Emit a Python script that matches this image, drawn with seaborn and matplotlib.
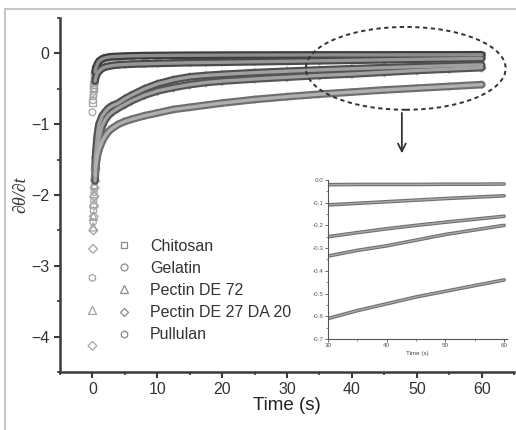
import numpy as np
import pandas as pd
import seaborn as sns
import matplotlib
matplotlib.use("Agg")
import matplotlib.pyplot as plt
from matplotlib.patches import Ellipse, Rectangle
from matplotlib.lines import Line2D
from matplotlib.ticker import MultipleLocator

# Sampling times (s)
time_s = [0, 0.1, 0.15, 0.2, 0.25, 0.3, 0.35, 0.4, 0.5, 0.75, 1, 1.5, 2, 2.5, 3, 4,
          5, 6, 8, 10, 12.5, 15, 17.5, 20, 25, 30, 35, 40, 45, 50, 55, 60]

# Rate of change of the contact angle for each film
chitosan = [-0.69, -0.57, -0.50, -0.44, -0.38, -0.33, -0.29, -0.26, -0.21, -0.15,
            -0.11, -0.075, -0.06, -0.05, -0.045, -0.04, -0.036, -0.033, -0.03,
            -0.028, -0.026, -0.025, -0.024, -0.023, -0.022, -0.021, -0.02, -0.02,
            -0.02, -0.019, -0.019, -0.018]
gelatin = [-0.83, -0.66, -0.60, -0.54, -0.49, -0.45, -0.42, -0.39, -0.34, -0.28,
           -0.25, -0.21, -0.19, -0.18, -0.17, -0.16, -0.155, -0.15, -0.145, -0.14,
           -0.135, -0.13, -0.127, -0.124, -0.117, -0.11, -0.103, -0.096, -0.089,
           -0.082, -0.076, -0.07]
pectin_de72 = [-3.63, -2.45, -2.30, -2.12, -1.98, -1.85, -1.72, -1.60, -1.42, -1.15,
               -1.00, -0.88, -0.82, -0.77, -0.74, -0.70, -0.64, -0.59, -0.50, -0.43,
               -0.37, -0.33, -0.31, -0.295, -0.27, -0.25, -0.232, -0.215, -0.20,
               -0.186, -0.173, -0.16]
pectin_de27 = [-4.13, -2.76, -2.50, -2.30, -2.15, -2.02, -1.90, -1.80, -1.62, -1.36,
               -1.20, -1.02, -0.93, -0.87, -0.83, -0.77, -0.72, -0.67, -0.59, -0.53,
               -0.48, -0.44, -0.41, -0.39, -0.36, -0.335, -0.31, -0.29, -0.265,
               -0.24, -0.22, -0.20]
pullulan = [-3.17, -2.38, -2.22, -2.08, -1.96, -1.87, -1.79, -1.72, -1.60, -1.45,
            -1.36, -1.24, -1.16, -1.10, -1.06, -1.00, -0.96, -0.93, -0.88, -0.84,
            -0.79, -0.76, -0.73, -0.70, -0.65, -0.61, -0.575, -0.545, -0.515,
            -0.49, -0.465, -0.44]

labels = ["Chitosan", "Gelatin", "Pectin DE 72", "Pectin DE 27 DA 20", "Pullulan"]
values = [chitosan, gelatin, pectin_de72, pectin_de27, pullulan]
markers = ["s", "o", "^", "D", "h"]
marker_area = [22, 24, 34, 20, 26]
legend_ms = [4.8, 5.0, 5.6, 4.0, 5.2]
edge_cols = ["#3c3c3c", "#4a4a4a", "#505050", "#555555", "#6e6e6e"]
core_cols = ["#8e8e8e", "#979797", "#a0a0a0", "#a2a2a2", "#b0b0b0"]

df = pd.DataFrame({
    "time": np.tile(time_s, len(labels)),
    "rate": np.concatenate(values),
    "film": np.repeat(labels, len(time_s)),
})

sns.set_theme(style="ticks")
plt.rcParams["font.family"] = ["Liberation Sans", "DejaVu Sans"]

fig = plt.figure(figsize=(5.16, 4.30), dpi=100)
ax = fig.add_axes([0.1163, 0.1349, 0.88, 0.823])

for lab, m, sz, ec, cc in zip(labels, markers, marker_area, edge_cols, core_cols):
    d = df[df["film"] == lab]
    band = d[d["time"] >= 0.4]
    sns.scatterplot(data=d, x="time", y="rate", marker=m, s=sz, facecolor="none",
                    edgecolor="#a4a4a4", linewidth=0.9, ax=ax, zorder=2, legend=False)
    sns.lineplot(data=band, x="time", y="rate", color=ec, lw=5.5, ax=ax,
                 zorder=3, legend=False, solid_capstyle="round")
    sns.lineplot(data=band, x="time", y="rate", color=cc, lw=2.4, ax=ax,
                 zorder=4, legend=False, solid_capstyle="round")

ax.set_xlim(-5, 65)
ax.set_ylim(-4.5, 0.5)
ax.xaxis.set_major_locator(MultipleLocator(10))
ax.xaxis.set_minor_locator(MultipleLocator(5))
ax.yaxis.set_major_locator(MultipleLocator(1))
ax.yaxis.set_minor_locator(MultipleLocator(0.5))
ax.set_xticks([0, 10, 20, 30, 40, 50, 60])
for s in ["top", "right"]:
    ax.spines[s].set_visible(False)
for s in ["left", "bottom"]:
    ax.spines[s].set_linewidth(1.8)
    ax.spines[s].set_color("#3a3a3a")
ax.tick_params(which="major", direction="out", length=4, width=1.5,
               colors="#3a3a3a", labelsize=11.5, labelcolor="#333333")
ax.tick_params(which="minor", direction="out", length=2.5, width=1.2, colors="#3a3a3a")
ax.set_xlabel("Time (s)", fontsize=13.5, color="#222222", labelpad=0)
ax.set_ylabel("∂θ/∂t", fontsize=13, color="#333333", style="italic",
              family=["Liberation Serif", "DejaVu Serif"], labelpad=1)

# Dashed outline around the late-time region and pointer to the inset
ax.add_patch(Ellipse((48.3, -0.21), 30.8, 1.17, fill=False, ls=(0, (2.2, 1.8)),
                     lw=1.4, ec="#333333", zorder=5))
ax.annotate("", xy=(47.7, -1.45), xytext=(47.7, -0.80),
            arrowprops=dict(arrowstyle="->", lw=1.3, color="#333333",
                            mutation_scale=14), zorder=5)

handles = [Line2D([], [], ls="none", marker=m, ms=ms, mfc="none", mec="#8a8a8a", mew=0.9)
           for m, ms in zip(markers, legend_ms)]
ax.legend(handles, labels, loc="upper left", bbox_to_anchor=(0.11, 0.395),
          frameon=False, fontsize=11.5, handlelength=1.0, handletextpad=1.1,
          labelspacing=0.45, labelcolor="#333333", borderaxespad=0)

# Inset: late-time detail
axin = fig.add_axes([0.6357, 0.2116, 0.347, 0.370])
for lab in labels:
    d = df[(df["film"] == lab) & (df["time"] >= 30)]
    sns.lineplot(data=d, x="time", y="rate", color="#707070", lw=2.6, ax=axin, legend=False)
    sns.lineplot(data=d, x="time", y="rate", color="#a8a8a8", lw=1.0, ax=axin, legend=False)
axin.set_xlim(30, 60.5)
axin.set_ylim(-0.7, 0.0)
axin.set_facecolor("none")
axin.xaxis.set_major_locator(MultipleLocator(10))
axin.xaxis.set_minor_locator(MultipleLocator(5))
axin.yaxis.set_major_locator(MultipleLocator(0.1))
axin.yaxis.set_minor_locator(MultipleLocator(0.05))
axin.set_yticklabels([f"{v:.1f}" for v in axin.get_yticks()])
for s in ["top", "right"]:
    axin.spines[s].set_visible(False)
for s in ["left", "bottom"]:
    axin.spines[s].set_linewidth(0.8)
    axin.spines[s].set_color("#555555")
axin.tick_params(which="major", direction="out", length=2, width=0.6,
                 colors="#555555", labelsize=4.5, pad=1)
axin.tick_params(which="minor", direction="out", length=1.2, width=0.5, colors="#555555")
axin.set_xlabel("Time (s)", fontsize=4.5, color="#444444", labelpad=2)
axin.set_ylabel("")

fig.patches.append(Rectangle((5 / 516, -0.1), 2, 1.079, transform=fig.transFigure,
                             fill=False, ec="#c8c8c8", lw=1.5, figure=fig))

fig.savefig("out.png", dpi=100)
